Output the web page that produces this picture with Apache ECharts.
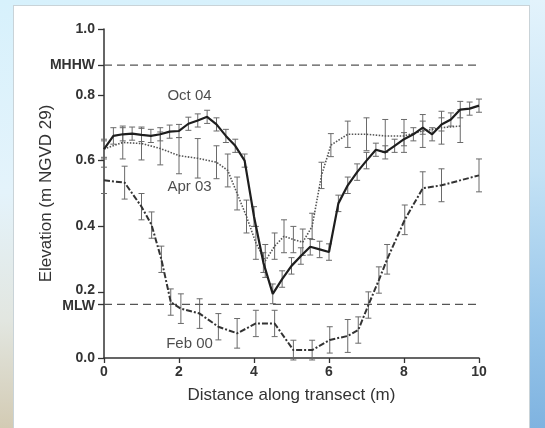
<!DOCTYPE html>
<html><head><meta charset="utf-8">
<script src="https://cdn.jsdelivr.net/npm/echarts@6/dist/echarts.min.js"></script>
<style>
html,body{margin:0;padding:0;width:545px;height:428px;overflow:hidden;}
body{background:linear-gradient(180deg,#d7f1fc 0%,#e4f3fb 45%,#e2e6e0 75%,#d3cbb4 100%);position:relative;}
#panel{position:absolute;left:13px;top:5px;width:515px;height:430px;background:#fff;border:1px solid #c9d3d8;}
#edge{position:absolute;right:0;top:0;width:15px;height:428px;background:linear-gradient(180deg,#e3f3fc 0%,#c4e2f5 40%,#98c6ea 75%,#7fb3e0 100%);}
#chart{position:absolute;left:0;top:0;width:545px;height:428px;}
</style></head>
<body>
<div id="panel"></div><div id="edge"></div>
<div id="chart"></div>
<script>
const octX = [0,0.25,0.5,0.75,1,1.25,1.5,1.75,2,2.25,2.5,2.75,3,3.25,3.5,3.75,4,4.25,4.5,4.75,5,5.25,5.5,5.75,6,6.25,6.5,6.75,7,7.25,7.5,7.75,8,8.25,8.5,8.75,9,9.25,9.5,9.75,10];
const octY = [0.635,0.675,0.68,0.682,0.678,0.675,0.68,0.688,0.69,0.712,0.722,0.733,0.71,0.675,0.645,0.60,0.43,0.29,0.195,0.24,0.28,0.31,0.338,0.33,0.322,0.47,0.525,0.565,0.60,0.633,0.625,0.645,0.665,0.68,0.70,0.68,0.71,0.725,0.755,0.758,0.767];
const octErr = [0.025,0.025,0.02,0.02,0.02,0.02,0.02,0.02,0.02,0.02,0.02,0.02,0.02,0.02,0.02,0.02,0.03,0.03,0.03,0.025,0.025,0.025,0.025,0.025,0.025,0.025,0.025,0.025,0.025,0.02,0.02,0.02,0.02,0.02,0.02,0.02,0.02,0.02,0.025,0.02,0.02];

const aprX = [0,0.5,1,1.5,2,2.5,3,3.3,3.55,3.8,4.05,4.3,4.55,4.8,5.05,5.3,5.55,5.8,6.05,6.5,7.0,7.5,8.0,8.5,9.0,9.5];
const aprY = [0.635,0.655,0.652,0.637,0.615,0.607,0.595,0.57,0.50,0.43,0.35,0.295,0.34,0.37,0.36,0.352,0.40,0.555,0.647,0.68,0.68,0.675,0.675,0.69,0.70,0.705];
const aprErr = [0.03,0.05,0.05,0.05,0.055,0.06,0.05,0.05,0.05,0.05,0.05,0.05,0.04,0.05,0.04,0.04,0.04,0.04,0.035,0.04,0.05,0.05,0.05,0.05,0.05,0.05];

const febX = [0,0.55,1.0,1.27,1.53,1.78,2.05,2.55,3.05,3.55,4.05,4.55,5.05,5.55,6.02,6.5,6.78,7.05,7.33,7.55,8.02,8.5,9.0,10.0];
const febY = [0.54,0.533,0.46,0.404,0.30,0.17,0.15,0.135,0.095,0.075,0.105,0.105,0.024,0.024,0.055,0.067,0.085,0.161,0.237,0.30,0.42,0.516,0.525,0.555];
const febErr = [0.04,0.05,0.04,0.04,0.04,0.04,0.045,0.045,0.04,0.045,0.04,0.04,0.03,0.03,0.04,0.05,0.04,0.04,0.04,0.045,0.045,0.05,0.05,0.05];

const seriesLabels = [[2.28,0.797,'Oct 04'],[2.28,0.521,'Apr 03'],[2.28,0.044,'Feb 00']];
const refLevels = {MHHW:0.89, MLW:0.163};
const yTicks = [0,0.2,0.4,0.6,0.8,1.0];
const xTicks = [0,2,4,6,8,10];

const pairs = (xs, ys) => xs.map((x,i)=>[x,ys[i]]);
const bars = (xs, ys, es) => xs.map((x,i)=>[x,ys[i]-es[i],ys[i]+es[i]]);

function errRender(params, api){
  const x = api.value(0);
  const lo = api.coord([x, api.value(1)]);
  const hi = api.coord([x, api.value(2)]);
  const w = 3;
  const st = {stroke:'#6a6a6a', lineWidth:1};
  return {type:'group', children:[
    {type:'line', shape:{x1:lo[0],y1:lo[1],x2:hi[0],y2:hi[1]}, style:st},
    {type:'line', shape:{x1:lo[0]-w,y1:lo[1],x2:lo[0]+w,y2:lo[1]}, style:st},
    {type:'line', shape:{x1:hi[0]-w,y1:hi[1],x2:hi[0]+w,y2:hi[1]}, style:st}
  ]};
}

const font = 'Liberation Sans, Arial, Helvetica, sans-serif';
const chart = echarts.init(document.getElementById('chart'), null, {renderer:'canvas'});
const yCustom = yTicks.concat([refLevels.MLW, refLevels.MHHW]);
chart.setOption({
  animation:false,
  backgroundColor:'transparent',
  grid:{left:104, right:66, top:29, bottom:70, containLabel:false},
  xAxis:{type:'value', min:0, max:10, interval:2,
    name:'Distance along transect (m)', nameLocation:'middle', nameGap:29,
    nameTextStyle:{fontFamily:font, fontSize:17, color:'#333'},
    axisLine:{show:true, onZero:false, lineStyle:{color:'#333', width:1.5}},
    axisTick:{show:true, length:5, lineStyle:{color:'#333', width:1.3}},
    axisLabel:{fontFamily:font, fontSize:14, fontWeight:'bold', color:'#333', margin:7},
    splitLine:{show:false}},
  yAxis:{type:'value', min:0, max:1, interval:0.2,
    name:'Elevation (m NGVD 29)', nameLocation:'middle', nameGap:49, nameMoveOverlap:false,
    nameTextStyle:{fontFamily:font, fontSize:17, color:'#333'},
    axisLine:{show:true, onZero:false, lineStyle:{color:'#333', width:1.5}},
    axisTick:{show:true, length:6, customValues:yCustom, lineStyle:{color:'#333', width:1.3}},
    axisLabel:{fontFamily:font, fontSize:14, fontWeight:'bold', color:'#333', margin:9,
      customValues:yCustom,
      formatter:function(v){
        if (Math.abs(v-refLevels.MHHW)<1e-6) return 'MHHW';
        if (Math.abs(v-refLevels.MLW)<1e-6) return '{mlw|MLW}';
        if (Math.abs(v-0.2)<1e-6) return '{up|0.2}';
        return v.toFixed(1);
      },
      rich:{mlw:{fontFamily:font, fontSize:14, fontWeight:'bold', color:'#333', padding:[3,0,0,0]},
            up:{fontFamily:font, fontSize:14, fontWeight:'bold', color:'#333', padding:[0,0,4,0]}}},
    splitLine:{show:false}},
  series:[
    {type:'line', data:[[0,refLevels.MHHW],[10,refLevels.MHHW]], symbol:'none', silent:true,
      lineStyle:{color:'#555', width:1.3, type:[8,5]}},
    {type:'line', data:[[0,refLevels.MLW],[10,refLevels.MLW]], symbol:'none', silent:true,
      lineStyle:{color:'#555', width:1.3, type:[8,5]}},
    {type:'custom', renderItem:errRender, data:bars(aprX,aprY,aprErr), z:3},
    {type:'custom', renderItem:errRender, data:bars(octX,octY,octErr), z:3},
    {type:'custom', renderItem:errRender, data:bars(febX,febY,febErr), z:3},
    {name:'Apr 03', type:'line', data:pairs(aprX,aprY), symbol:'none', z:4,
      lineStyle:{color:'#555', width:1.6, type:[1.5,1.5]}},
    {name:'Feb 00', type:'line', data:pairs(febX,febY), symbol:'none', z:4,
      lineStyle:{color:'#333', width:2, type:[6,2,2,2]}},
    {name:'Oct 04', type:'line', data:pairs(octX,octY), symbol:'none', z:5,
      lineStyle:{color:'#1e1e1e', width:2.2}},
    {type:'scatter', data:seriesLabels, symbolSize:0, z:6,
      label:{show:true, position:'inside', formatter:p=>p.value[2],
        fontFamily:font, fontSize:15, color:'#222'}}
  ]
});
</script>
</body></html>
